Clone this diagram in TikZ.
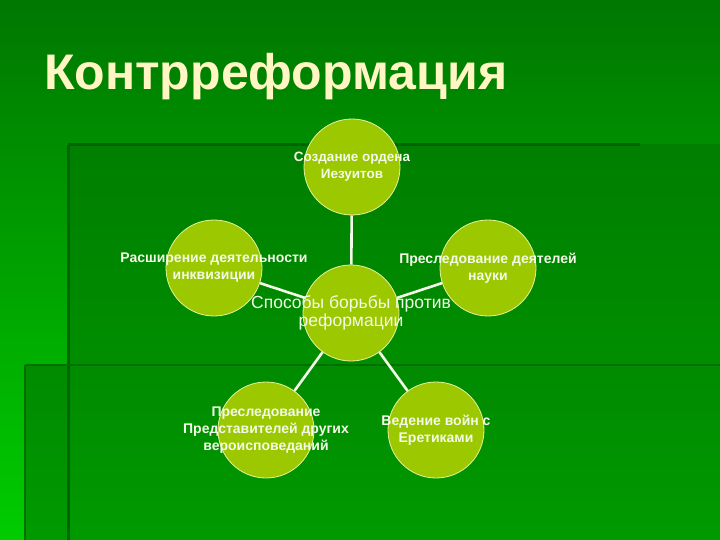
\documentclass[tikz,border=0pt]{standalone}
\usepackage{fontspec}
\setmainfont{Liberation Sans}
\usetikzlibrary{backgrounds}

\definecolor{topgreen}{HTML}{007700}
\definecolor{lowgreen}{HTML}{00CC00}
\definecolor{panelgreen}{HTML}{007F00}
\definecolor{panellow}{HTML}{009A00}
\definecolor{edgegreen}{HTML}{006400}
\definecolor{bubblefill}{HTML}{9CC800}
\definecolor{bubbleedge}{HTML}{E6F2A0}
\definecolor{titlecream}{HTML}{FFF6C4}
\definecolor{textwhite}{HTML}{F4FAE8}

\begin{document}
\begin{tikzpicture}[x=1pt,y=-1pt,
        bubble/.style={circle, fill=bubblefill, draw=bubbleedge, line width=0.8pt, minimum size=96pt, inner sep=0pt},
        txt/.style={text=textwhite, align=center, font=\bfseries\fontsize{14}{17}\selectfont},
        link/.style={draw=textwhite, line width=2.6pt}]

        \useasboundingbox (0,0) rectangle (720,540);

        % title
        \node[anchor=base west, inner sep=0pt, text=titlecream, font=\bfseries\fontsize{50}{58}\selectfont] (title) at (44,90) {Контрреформация};

        % circles
        \node[bubble, label={[txt, font=\bfseries\fontsize{13.5}{17}\selectfont]center:Создание ордена\\Иезуитов}] (order) at (352,167) {};
        \node[bubble, label={[txt]center:Расширение деятельности\\инквизиции}] (inquis) at (214,268) {};
        \node[bubble, label={[txt]center:Преследование деятелей\\науки}] (science) at (488,268) {};
        \node[bubble, label={[txt, font=\fontsize{17.5}{18}\selectfont]center:Способы борьбы против\\реформации}] (ways) at (351,313) {};
        \node[bubble, label={[txt]center:Преследование\\Представителей других\\вероисповеданий}] (faiths) at (266,430) {};
        \node[bubble, label={[txt]center:Ведение войн с\\Еретиками}] (wars) at (436,430) {};

        \begin{scope}[on background layer]
                % background
                \fill[top color=topgreen, bottom color=lowgreen] (0,0) rectangle (720,540);
                \fill[top color=panelgreen, bottom color=panellow] (68,145) rectangle (720,540);
                \fill[top color=panellow!90!black, bottom color=panellow] (25,365) rectangle (720,540);

                % panel edges
                \draw[edgegreen, line width=3pt] (68,145) -- (640,145);
                \draw[edgegreen, line width=3pt] (68,145) -- (68,540);
                \draw[edgegreen!80!panellow, line width=2.5pt] (25,365) -- (720,365);
                \draw[edgegreen!80!panellow, line width=2.5pt] (25,365) -- (25,540);

                % links
                \draw[link] (ways) -- (order);
                \draw[link] (ways) -- (inquis);
                \draw[link] (ways) -- (science);
                \draw[link] (ways) -- (faiths);
                \draw[link] (ways) -- (wars);
        \end{scope}
\end{tikzpicture}
\end{document}
